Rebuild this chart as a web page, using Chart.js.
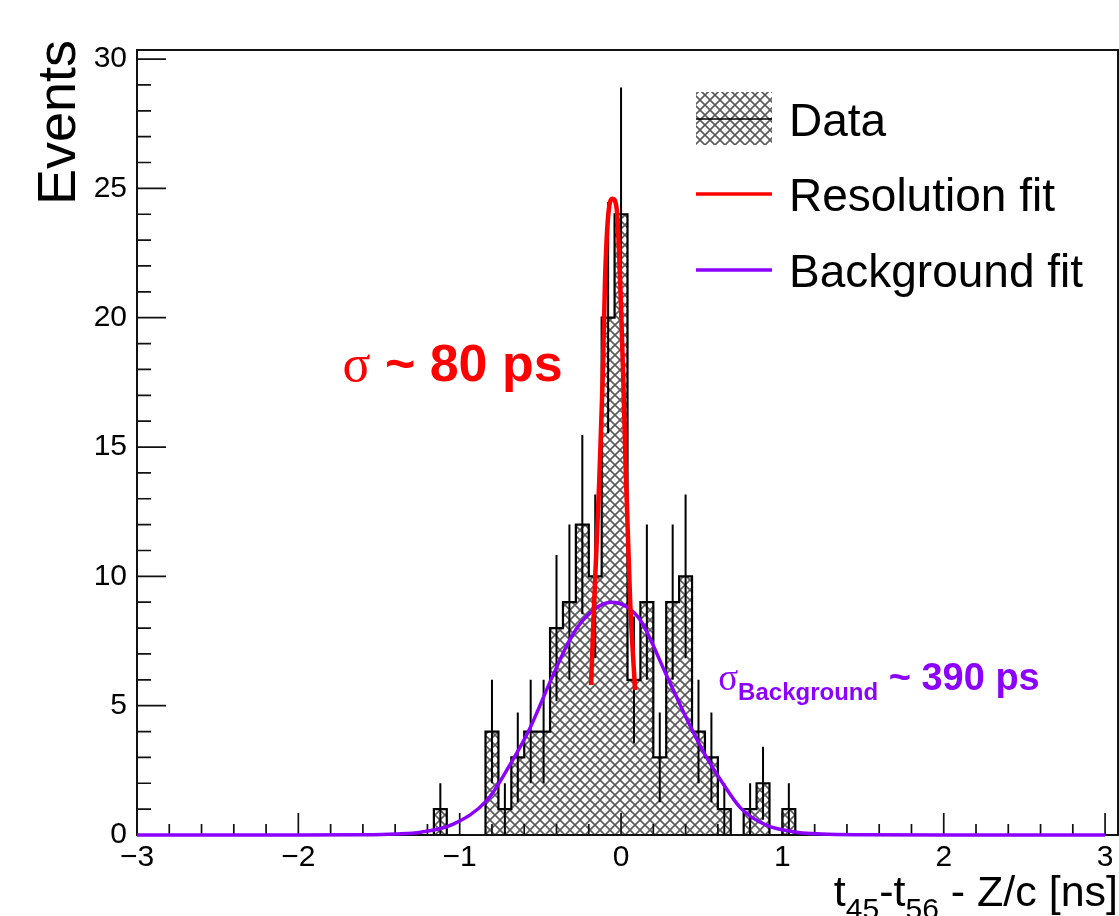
<!DOCTYPE html>
<html>
<head>
<meta charset="utf-8">
<script src="https://cdn.jsdelivr.net/npm/chart.js@4.4.1/dist/chart.umd.min.js"></script>
<style>
  body { margin: 0; background: #fff; }
  canvas { display: block; }
</style>
</head>
<body>
<canvas id="myChart" width="1119" height="916"></canvas>
<script>
// histogram bins (0.08 ns wide), only the non-empty region
const binEdges = [-1.16, -1.08, -1.00, -0.92, -0.84, -0.76, -0.68, -0.60, -0.52, -0.44,
  -0.36, -0.28, -0.20, -0.12, -0.04, 0.04, 0.12, 0.20, 0.28, 0.36,
  0.44, 0.52, 0.60, 0.68, 0.76, 0.84, 0.92, 1.00, 1.08];
const counts = [1, 0, 0, 0, 4, 1, 3, 4, 4, 8, 9, 12, 10, 20, 24, 6, 9, 3, 9, 10, 4, 3, 1, 0, 1, 2, 0, 1];

// fit curves, points
const resX = [-0.186, -0.166, -0.135, -0.114, -0.099, -0.079, -0.052, -0.027, -0.006, 0.014, 0.031, 0.056, 0.087];
const resY = [5.8, 9.1, 13.7, 17.6, 21.5, 24.0, 24.6, 24.2, 21.5, 17.6, 13.7, 9.1, 5.6];
const bkgX = [-3.0, -2.0, -1.6, -1.4, -1.24, -1.04, -0.83, -0.69, -0.57, -0.42, -0.30, -0.17, -0.06,
  0.04, 0.12, 0.28, 0.41, 0.53, 0.62, 0.74, 0.90, 1.10, 1.24, 1.5, 2.0, 3.0];
const bkgY = [0, 0, 0.01, 0.04, 0.11, 0.42, 1.35, 2.7, 4.06, 6.2, 7.75, 8.7, 9.0,
  8.8, 8.3, 6.2, 4.45, 3.0, 2.1, 1.05, 0.38, 0.1, 0.04, 0.01, 0, 0];

const xTicks = [-3, -2, -1, 0, 1, 2, 3];
const yTicks = [0, 5, 10, 15, 20, 25, 30];

const RED = "#ff0000";
const PURPLE = "#8c00ff";
const SANS = "'Liberation Sans', Arial, Helvetica, sans-serif";
const SERIF = "'Liberation Serif', 'Times New Roman', serif";

Chart.defaults.font.family = SANS;
Chart.defaults.color = "#000";

function makeHatch() {
  const s = 10;
  const c = document.createElement("canvas");
  c.width = s; c.height = s;
  const g = c.getContext("2d");
  g.fillStyle = "#fff";
  g.fillRect(0, 0, s, s);
  g.strokeStyle = "#5a5a5a";
  g.lineWidth = 1.6;
  g.beginPath();
  g.moveTo(-1, -1); g.lineTo(s + 1, s + 1);
  g.moveTo(s + 1, -1); g.lineTo(-1, s + 1);
  g.stroke();
  return g.createPattern(c, "repeat");
}
const hatch = makeHatch();

// step outline points for the histogram
const histPoints = [{x: binEdges[0], y: 0}];
counts.forEach((c, i) => histPoints.push({x: binEdges[i], y: c}));
histPoints.push({x: binEdges[binEdges.length - 1], y: counts[counts.length - 1]});
histPoints.push({x: binEdges[binEdges.length - 1], y: 0});

// poisson error bars at bin centres, separated by gaps
const errPoints = [];
counts.forEach((c, i) => {
  if (c <= 0) return;
  const mid = (binEdges[i] + binEdges[i + 1]) / 2;
  errPoints.push({x: mid, y: c - Math.sqrt(c)}, {x: mid, y: c + Math.sqrt(c)}, {x: mid, y: null});
});

function drawFrame(chart) {
  const {ctx, chartArea: a, scales: {x, y}} = chart;
  ctx.save();
  ctx.strokeStyle = "#111";
  ctx.lineWidth = 2;
  ctx.strokeRect(a.left, a.top, a.right - a.left, a.bottom - a.top);
  ctx.lineWidth = 1.7;
  ctx.beginPath();
  for (let i = 0; i < xTicks.length; i++) {
    for (let j = 0; j < 5; j++) {
      if (i == xTicks.length - 1 && j > 0) break;
      const v = xTicks[i] + j * 0.2;
      const px = x.getPixelForValue(v);
      const len = j == 0 ? 22 : 11;
      ctx.moveTo(px, a.bottom);
      ctx.lineTo(px, a.bottom - len);
    }
  }
  for (let v = 0; v <= 30; v++) {
    const py = y.getPixelForValue(v);
    const len = v % 5 == 0 ? 29 : 14;
    ctx.moveTo(a.left, py);
    ctx.lineTo(a.left + len, py);
  }
  ctx.stroke();
  ctx.restore();
}

function drawTexts(chart) {
  const {ctx, scales: {x, y}} = chart;
  ctx.save();
  ctx.fillStyle = "#000";

  // y title
  ctx.save();
  ctx.translate(75, 40);
  ctx.rotate(-Math.PI / 2);
  ctx.font = "54px " + SANS;
  ctx.textAlign = "right";
  ctx.fillText("Events", 0, 0);
  ctx.restore();

  // x title with subscripts
  const parts = [["t", 0], ["45", 1], ["-t", 0], ["56", 1], [" - Z/c [ns]", 0]];
  const mainFont = "43px " + SANS, subFont = "30px " + SANS;
  let total = 0;
  parts.forEach(p => { ctx.font = p[1] ? subFont : mainFont; total += ctx.measureText(p[0]).width; });
  let cx = 1118 - total;
  parts.forEach(p => {
    ctx.font = p[1] ? subFont : mainFont;
    ctx.fillText(p[0], cx, p[1] ? 919 : 906);
    cx += ctx.measureText(p[0]).width;
  });

  // sigma annotations
  let px = x.getPixelForValue(-1.727), py = y.getPixelForValue(17.54);
  ctx.fillStyle = RED;
  ctx.font = "52px " + SERIF;
  ctx.fillText("\u03c3", px, py);
  px += ctx.measureText("\u03c3").width;
  ctx.font = "bold 52px " + SANS;
  ctx.fillText(" ~ 80 ps", px, py);

  px = x.getPixelForValue(0.602); py = y.getPixelForValue(5.6);
  ctx.fillStyle = PURPLE;
  ctx.font = "37px " + SERIF;
  ctx.fillText("\u03c3", px, py);
  px += ctx.measureText("\u03c3").width;
  ctx.font = "bold 24px " + SANS;
  ctx.fillText("Background", px, py + 10);
  px += ctx.measureText("Background").width;
  ctx.font = "bold 38px " + SANS;
  ctx.fillText(" ~ 390 ps", px, py);

  // legend
  const ds = chart.data.datasets;
  const rows = [
    {label: ds[0].label, y: 119, hatch: true},
    {label: ds[3].label, y: 194, color: RED},
    {label: ds[2].label, y: 270, color: PURPLE}
  ];
  rows.forEach(r => {
    if (r.hatch) {
      ctx.fillStyle = hatch;
      ctx.fillRect(696, r.y - 27, 76, 53);
      ctx.strokeStyle = "#000";
      ctx.lineWidth = 1.5;
    } else {
      ctx.strokeStyle = r.color;
      ctx.lineWidth = 3.5;
    }
    ctx.beginPath();
    ctx.moveTo(696, r.y);
    ctx.lineTo(772, r.y);
    ctx.stroke();
    ctx.fillStyle = "#000";
    ctx.font = "46px " + SANS;
    ctx.fillText(r.label, 789, r.y + 16.5);
  });
  ctx.restore();
}

const rootStyle = {
  id: "rootStyle",
  afterDatasetDraw(chart, args) {
    if (args.index === 0) drawFrame(chart);
  },
  afterDraw(chart) {
    drawTexts(chart);
  }
};

const ctx = document.getElementById("myChart");
const myChart = new Chart(ctx, {
  type: "line",
  data: {
    datasets: [{
      label: "Data",
      data: histPoints,
      stepped: true,
      borderColor: "#000",
      borderWidth: 2.2,
      backgroundColor: hatch,
      fill: "origin",
      pointRadius: 0,
      order: 4
    }, {
      label: "errors",
      data: errPoints,
      borderColor: "#000",
      borderWidth: 2,
      pointRadius: 0,
      spanGaps: false,
      order: 3
    }, {
      label: "Background fit",
      data: bkgX.map((v, i) => ({x: v, y: bkgY[i]})),
      borderColor: PURPLE,
      borderWidth: 3.5,
      cubicInterpolationMode: "monotone",
      pointRadius: 0,
      clip: false,
      order: 2
    }, {
      label: "Resolution fit",
      data: resX.map((v, i) => ({x: v, y: resY[i]})),
      borderColor: RED,
      borderWidth: 4.5,
      cubicInterpolationMode: "monotone",
      pointRadius: 0,
      order: 1
    }]
  },
  options: {
    responsive: false,
    animation: false,
    devicePixelRatio: 1,
    layout: { padding: { top: 50, right: 1, left: 0, bottom: 0 } },
    plugins: { legend: { display: false }, tooltip: { enabled: false } },
    scales: {
      x: {
        type: "linear",
        min: -3,
        max: 3.08,
        afterFit(scale) { scale.height = 81; },
        afterBuildTicks(scale) { scale.ticks = xTicks.map(v => ({value: v})); },
        grid: { display: false, drawTicks: false },
        border: { display: false },
        ticks: {
          padding: 5,
          maxRotation: 0,
          autoSkip: false,
          font: { size: 30 },
          callback: v => (v < 0 ? "\u2212" + Math.abs(v) : String(v))
        }
      },
      y: {
        min: 0,
        max: 30.35,
        afterFit(scale) { scale.width = 137; },
        afterBuildTicks(scale) { scale.ticks = yTicks.map(v => ({value: v})); },
        grid: { display: false, drawTicks: false },
        border: { display: false },
        ticks: {
          padding: 10,
          autoSkip: false,
          font: { size: 30 }
        }
      }
    }
  },
  plugins: [rootStyle]
});
</script>
</body>
</html>
